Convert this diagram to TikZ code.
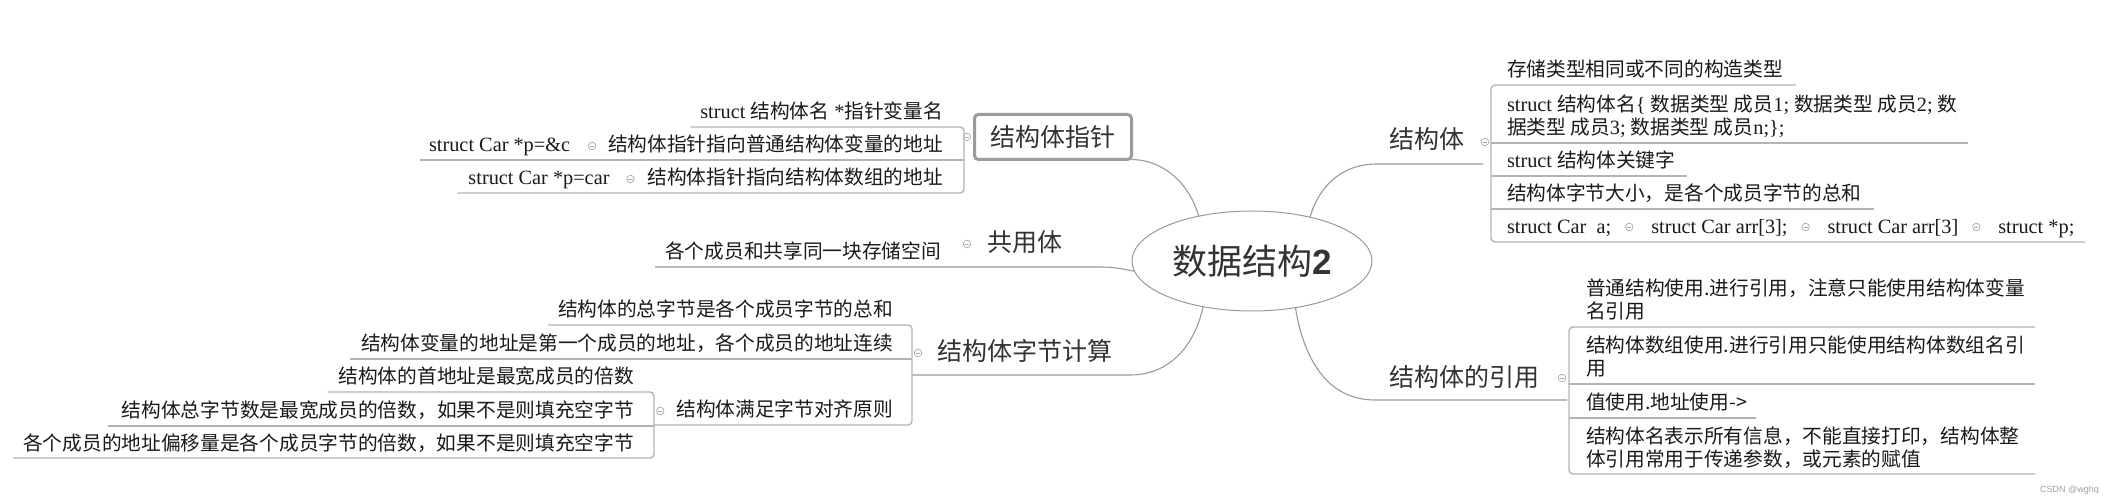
\documentclass[tikz,border=0pt]{standalone}
\usepackage{fontspec}
\setmainfont{Noto Sans CJK SC}
\newfontfamily\latfont{Liberation Serif}[Scale=1.03]
\newfontfamily\wmfont{Liberation Sans}
\usetikzlibrary{calc,shapes.geometric}
\newcommand\mylat[1]{{\latfont #1}}
\definecolor{txtc}{HTML}{1A1A1A}
\definecolor{brc}{HTML}{333333}
\definecolor{linec}{HTML}{9A9A9A}
\definecolor{ulc}{HTML}{B4B4B4}
\definecolor{circc}{HTML}{A8A8A8}
\definecolor{boxc}{HTML}{9C9C9C}
\definecolor{wmc}{HTML}{A0A0A0}
\begin{document}
\begin{tikzpicture}[x=1pt,y=-1pt,
  ctext/.style={font={\fontsize{19.7}{23}\selectfont}, text=txtc, inner sep=0pt, outer sep=0pt},
  btext/.style={font={\fontsize{25}{30}\selectfont}, text=brc, inner sep=0pt, outer sep=0pt},
  uline/.style={draw=ulc, line width=1.4pt, rounded corners=4pt},
  bline/.style={draw=linec, line width=1.1pt},
  circ/.style={circle, draw=circc, fill=white, line width=0.7pt, minimum size=7.5pt, inner sep=0pt,
    path picture={\draw[circc,line width=0.7pt] ([xshift=1.7pt]path picture bounding box.west) -- ([xshift=-1.7pt]path picture bounding box.east);}},
]
\useasboundingbox (0,0) rectangle (2113,502);
\fill[white] (0,0) rectangle (2113,502);

% root
\node[ellipse, draw=linec, line width=1pt, minimum width=240pt, minimum height=100pt,
  inner sep=0pt, outer sep=0pt, font={\fontsize{35}{40}\selectfont}, text=brc] (root) at (1252,261)
  {数据结构{\wmfont\bfseries 2}};

% ---------- right: 结构体 ----------
\node[btext, anchor=base west] (st) at (1389,149) {结构体};
\coordinate (stend) at (1483,164);
\node[circ] (sto) at (1485,142) {};
\draw[bline] (root.37) .. controls (1316,195) and (1335,164) .. (1377,164) -- (stend);

\node[ctext, anchor=base west] (r1) at (1507,77) {存储类型相同或不同的构造类型};
\node[ctext, anchor=base west] (r2a) at (1507,112) {\mylat{struct }结构体名\mylat{\{ }数据类型 成员\mylat{1; }数据类型 成员\mylat{2; }数};
\node[ctext, anchor=base west] (r2b) at (1507,135) {据类型 成员\mylat{3; }数据类型 成员\mylat{n;\};}};
\node[ctext, anchor=base west] (r3) at (1507,168) {\mylat{struct }结构体关键字};
\node[ctext, anchor=base west] (r4) at (1507,201) {结构体字节大小，是各个成员字节的总和};
\node[ctext, anchor=base west] (r5a) at (1507,234) {\mylat{struct Car~~a;}};
\node[circ] (r5o1) at ($(r5a.base east)+(18,-7)$) {};
\node[ctext, anchor=base west] (r5b) at ($(r5o1)+(22,7)$) {\mylat{struct Car arr[3];}};
\node[circ] (r5o2) at ($(r5b.base east)+(18,-7)$) {};
\node[ctext, anchor=base west] (r5c) at ($(r5o2)+(22,7)$) {\mylat{struct Car arr[3]}};
\node[circ] (r5o3) at ($(r5c.base east)+(18,-7)$) {};
\node[ctext, anchor=base west] (r5d) at ($(r5o3)+(22,7)$) {\mylat{struct *p;}};

\draw[uline] ($(r1.base east)+(13,8)$) -- (1491,85) -- (1491,242) -- ($(r5d.base east)+(11,8)$);
\draw[uline] (1491,143) -- ($(r2a.base east |- r2b.base)+(11,8)$);
\draw[uline] (1491,176) -- ($(r3.base east)+(12,8)$);
\draw[uline] (1491,209) -- ($(r4.base east)+(12,8)$);

% ---------- right: 结构体的引用 ----------
\node[btext, anchor=base west] (ref) at (1389,387) {结构体的引用};
\coordinate (refend) at (1567,400);
\node[circ] (refo) at (1562,378) {};
\draw[bline] (root.313) .. controls (1303,355) and (1325,400) .. (1375,400) -- (refend);

\node[ctext, anchor=base west] (q1a) at (1586,296) {普通结构使用.进行引用，注意只能使用结构体变量};
\node[ctext, anchor=base west] (q1b) at (1586,319) {名引用};
\node[ctext, anchor=base west] (q2a) at (1586,353) {结构体数组使用.进行引用只能使用结构体数组名引};
\node[ctext, anchor=base west] (q2b) at (1586,376) {用};
\node[ctext, anchor=base west] (q3) at (1586,410) {值使用.地址使用->};
\node[ctext, anchor=base west] (q4a) at (1586,443) {结构体名表示所有信息，不能直接打印，结构体整};
\node[ctext, anchor=base west] (q4b) at (1586,466) {体引用常用于传递参数，或元素的赋值};
\draw[uline] (2035,327) -- (1569,327) -- (1569,474) -- (2035,474);
\draw[uline] (1569,384) -- (2035,384);
\draw[uline] (1569,418) -- ($(q3.base east)+(9,8)$);

% ---------- left: 结构体指针 ----------
\node[btext, draw=boxc, line width=3pt, rounded corners=4pt, minimum width=157pt, minimum height=45pt] (ptr) at (1053,137) {结构体指针};
\node[circ] (ptro) at (967,137) {};
\draw[bline] (ptr.south east) .. controls (1165,160) and (1190,185) .. (root.140);

\node[ctext, anchor=base east] (p1) at (943,119) {\mylat{struct }结构体名\mylat{ *}指针变量名};
\node[ctext, anchor=base east] (p2) at (943,152) {结构体指针指向普通结构体变量的地址};
\node[circ] (p2o) at ($(p2.base west)+(-16,-6)$) {};
\node[ctext, anchor=base east] (p2c) at ($(p2o)+(-22,6)$) {\mylat{struct Car *p=\&c}};
\node[ctext, anchor=base east] (p3) at (943,185) {结构体指针指向结构体数组的地址};
\node[circ] (p3o) at ($(p3.base west)+(-17,-6)$) {};
\node[ctext, anchor=base east] (p3c) at ($(p3o)+(-21,6)$) {\mylat{struct Car *p=car}};
\draw[uline] ($(p1.base west)+(-10,8)$) -- (964,127) -- (964,193) -- ($(p3c.base west)+(-11,8)$);
\draw[uline] (964,160) -- ($(p2c.base west)+(-9,8)$);

% ---------- left: 共用体 ----------
\node[btext, anchor=base west] (uni) at (987,252) {共用体};
\node[circ] (unio) at (967,244) {};
\node[ctext, anchor=base east] (u1) at (941,259) {各个成员和共享同一块存储空间};
\draw[bline] (root.185) .. controls (1112,267) .. (1092,267) -- ($(u1.base west)+(-10,8)$);

% ---------- left: 结构体字节计算 ----------
\node[btext, anchor=base west] (bytes) at (937,361) {结构体字节计算};
\node[circ] (byteso) at (918,353) {};
\coordinate (bytesend) at (912,375);
\draw[bline] (root.223) .. controls (1195,345) and (1170,375) .. (1130,375) -- (bytesend);

\node[ctext, anchor=base east] (b1) at (893,317) {结构体的总字节是各个成员字节的总和};
\node[ctext, anchor=base east] (b2) at (893,351) {结构体变量的地址是第一个成员的地址，各个成员的地址连续};
\node[ctext, anchor=base east] (b3) at (893,417) {结构体满足字节对齐原则};
\node[circ] (b3o) at ($(b3.base west)+(-16,-6)$) {};
\draw[uline] ($(b1.base west)+(-10,8)$) -- (912,325) -- (912,425) -- (654,425);
\draw[uline] (912,359) -- ($(b2.base west)+(-11,8)$);

\node[ctext, anchor=base east] (c1) at (634,384) {结构体的首地址是最宽成员的倍数};
\node[ctext, anchor=base east] (c2) at (634,418) {结构体总字节数是最宽成员的倍数，如果不是则填充空字节};
\node[ctext, anchor=base east] (c3) at (634,450) {各个成员的地址偏移量是各个成员字节的倍数，如果不是则填充空字节};
\draw[uline] ($(c1.base west)+(-11,8)$) -- (654,392) -- (654,458) -- ($(c3.base west)+(-10,8)$);
\draw[uline] (654,426) -- ($(c2.base west)+(-14,8)$);

% watermark
\node[font={\wmfont\fontsize{9}{10}\selectfont}, text=wmc, anchor=base east, inner sep=0pt] (wm) at (2099,492) {CSDN @wghq};
\end{tikzpicture}
\end{document}
